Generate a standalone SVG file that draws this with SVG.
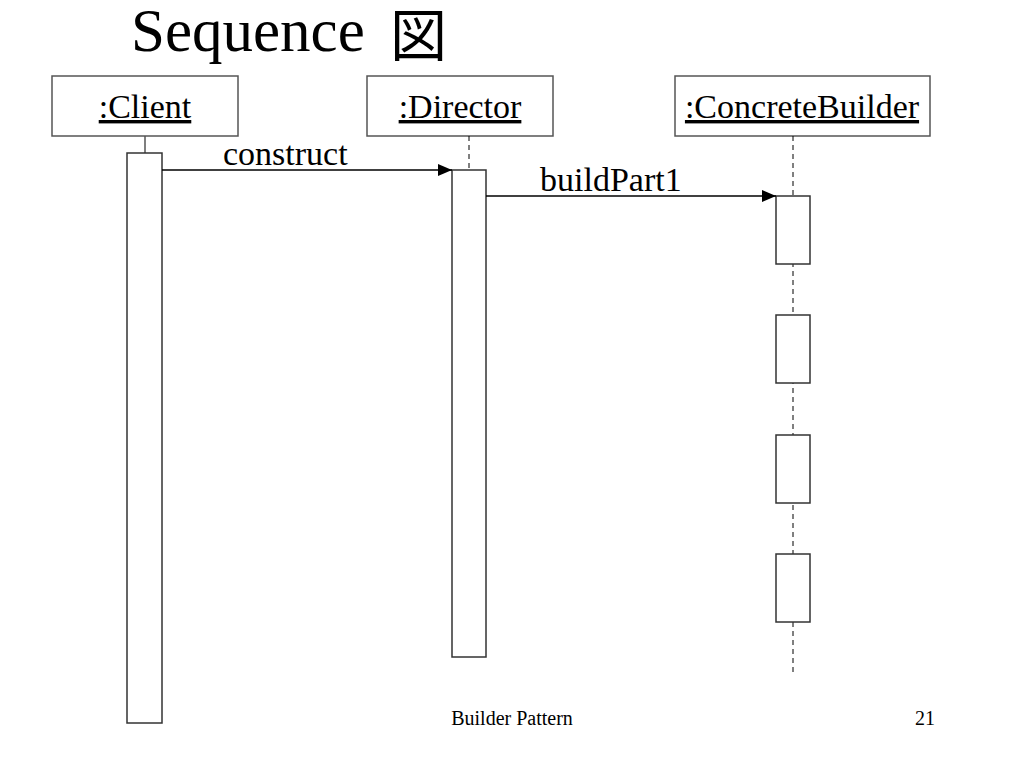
<svg xmlns="http://www.w3.org/2000/svg" width="1024" height="768" viewBox="0 0 1024 768" font-family="'Liberation Serif', 'Times New Roman', serif">
<defs>
<style>
.t{fill:#000}
.lbl{font-size:34px}
.box{fill:#fff;stroke:#555;stroke-width:1.5}
.act{fill:#fff;stroke:#333;stroke-width:1.5}
.life{stroke:#000;stroke-width:1;stroke-dasharray:5,4}
.msg{stroke:#000;stroke-width:1.3;fill:none}
</style>
<marker id="ah" markerWidth="14" markerHeight="12" refX="14" refY="6" orient="auto" markerUnits="userSpaceOnUse">
<path d="M0,0 L14,6 L0,12 Z" fill="#000"/>
</marker>
</defs>
<rect width="1024" height="768" fill="#fff"/>
<text class="t" x="131" y="51" font-size="61">Sequence <tspan x="390" y="56" font-family="'Noto Sans CJK JP', sans-serif" font-size="57">図</tspan></text>

<g id="client">
<rect class="box" x="52" y="76" width="186" height="60"/>
<text class="t lbl" x="145" y="118" text-anchor="middle" text-decoration="underline">:Client</text>
<line x1="145" y1="136" x2="145" y2="153" stroke="#555" stroke-width="1.5"/>
<rect class="act" x="127" y="153" width="35" height="570"/>
</g>

<g id="director">
<rect class="box" x="367" y="76" width="186" height="60"/>
<text class="t lbl" x="460" y="118" text-anchor="middle" text-decoration="underline">:Director</text>
<line class="life" x1="469" y1="136" x2="469" y2="170"/>
<rect class="act" x="452" y="170" width="34" height="487"/>
</g>

<g id="concretebuilder">
<rect class="box" x="675" y="76" width="255" height="60"/>
<text class="t lbl" x="802" y="118" text-anchor="middle" text-decoration="underline">:ConcreteBuilder</text>
<line class="life" x1="793" y1="136" x2="793" y2="676"/>
<rect class="act" x="776" y="196" width="34" height="68"/>
<rect class="act" x="776" y="315" width="34" height="68"/>
<rect class="act" x="776" y="435" width="34" height="68"/>
<rect class="act" x="776" y="554" width="34" height="68"/>
</g>

<g id="connectors">
<line class="msg" x1="162" y1="170" x2="452" y2="170" marker-end="url(#ah)"/>
<text class="t lbl" x="223" y="165">construct</text>
<line class="msg" x1="486" y1="196" x2="776" y2="196" marker-end="url(#ah)"/>
<text class="t lbl" x="540" y="191">buildPart1</text>
</g>

<text class="t" x="512" y="725" font-size="20" text-anchor="middle">Builder Pattern</text>
<text class="t" x="935" y="725" font-size="20" text-anchor="end">21</text>
</svg>
